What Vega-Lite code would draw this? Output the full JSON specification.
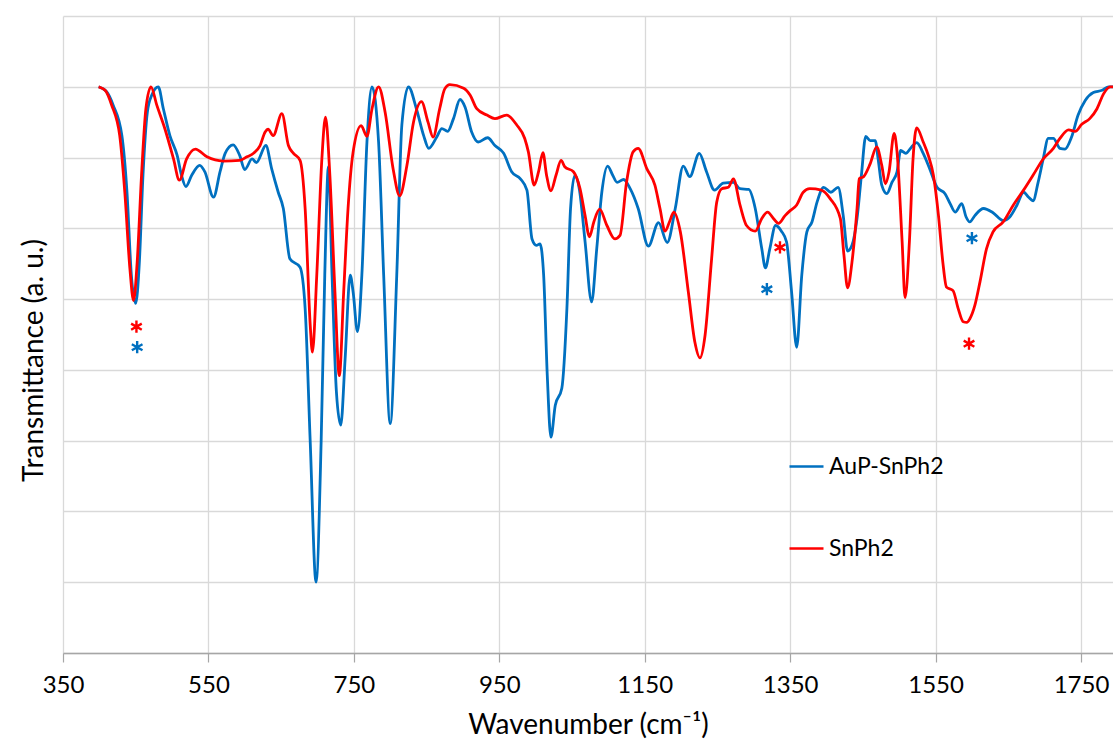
{
  "$schema": "https://vega.github.io/schema/vega-lite/v6.json",
  "autosize": {"type": "none"},
  "width": 1050,
  "height": 637,
  "padding": {"left": 63, "top": 16, "right": 0, "bottom": 90},
  "background": "white",
  "config": {
    "font": "Lato",
    "view": {"stroke": null},
    "axis": {"gridColor": "#d9d9d9", "gridWidth": 1.3}
  },
  "datasets": {
    "spectra": [
      {"s": "AuP-SnPh2", "x": 399, "y": 8.00},
      {"s": "AuP-SnPh2", "x": 410, "y": 7.93},
      {"s": "AuP-SnPh2", "x": 419, "y": 7.74},
      {"s": "AuP-SnPh2", "x": 431, "y": 7.31},
      {"s": "AuP-SnPh2", "x": 438, "y": 6.51},
      {"s": "AuP-SnPh2", "x": 444, "y": 5.34},
      {"s": "AuP-SnPh2", "x": 450, "y": 4.94},
      {"s": "AuP-SnPh2", "x": 455, "y": 5.52},
      {"s": "AuP-SnPh2", "x": 460, "y": 6.75},
      {"s": "AuP-SnPh2", "x": 466, "y": 7.64},
      {"s": "AuP-SnPh2", "x": 472, "y": 7.88},
      {"s": "AuP-SnPh2", "x": 481, "y": 8.00},
      {"s": "AuP-SnPh2", "x": 488, "y": 7.69},
      {"s": "AuP-SnPh2", "x": 497, "y": 7.31},
      {"s": "AuP-SnPh2", "x": 507, "y": 7.03},
      {"s": "AuP-SnPh2", "x": 513, "y": 6.75},
      {"s": "AuP-SnPh2", "x": 519, "y": 6.59},
      {"s": "AuP-SnPh2", "x": 527, "y": 6.75},
      {"s": "AuP-SnPh2", "x": 538, "y": 6.89},
      {"s": "AuP-SnPh2", "x": 545, "y": 6.80},
      {"s": "AuP-SnPh2", "x": 557, "y": 6.44},
      {"s": "AuP-SnPh2", "x": 566, "y": 6.80},
      {"s": "AuP-SnPh2", "x": 573, "y": 7.06},
      {"s": "AuP-SnPh2", "x": 584, "y": 7.18},
      {"s": "AuP-SnPh2", "x": 593, "y": 7.03},
      {"s": "AuP-SnPh2", "x": 600, "y": 6.83},
      {"s": "AuP-SnPh2", "x": 610, "y": 6.98},
      {"s": "AuP-SnPh2", "x": 616, "y": 6.93},
      {"s": "AuP-SnPh2", "x": 629, "y": 7.17},
      {"s": "AuP-SnPh2", "x": 637, "y": 6.84},
      {"s": "AuP-SnPh2", "x": 646, "y": 6.51},
      {"s": "AuP-SnPh2", "x": 653, "y": 6.28},
      {"s": "AuP-SnPh2", "x": 662, "y": 5.57},
      {"s": "AuP-SnPh2", "x": 676, "y": 5.45},
      {"s": "AuP-SnPh2", "x": 683, "y": 4.87},
      {"s": "AuP-SnPh2", "x": 690, "y": 2.98},
      {"s": "AuP-SnPh2", "x": 698, "y": 1.00},
      {"s": "AuP-SnPh2", "x": 705, "y": 2.98},
      {"s": "AuP-SnPh2", "x": 710, "y": 5.34},
      {"s": "AuP-SnPh2", "x": 715, "y": 6.87},
      {"s": "AuP-SnPh2", "x": 720, "y": 5.34},
      {"s": "AuP-SnPh2", "x": 726, "y": 3.69},
      {"s": "AuP-SnPh2", "x": 732, "y": 3.22},
      {"s": "AuP-SnPh2", "x": 738, "y": 4.16},
      {"s": "AuP-SnPh2", "x": 745, "y": 5.34},
      {"s": "AuP-SnPh2", "x": 749, "y": 5.10},
      {"s": "AuP-SnPh2", "x": 755, "y": 4.54},
      {"s": "AuP-SnPh2", "x": 761, "y": 5.34},
      {"s": "AuP-SnPh2", "x": 768, "y": 7.22},
      {"s": "AuP-SnPh2", "x": 775, "y": 8.00},
      {"s": "AuP-SnPh2", "x": 784, "y": 7.22},
      {"s": "AuP-SnPh2", "x": 791, "y": 5.34},
      {"s": "AuP-SnPh2", "x": 800, "y": 3.24},
      {"s": "AuP-SnPh2", "x": 809, "y": 5.34},
      {"s": "AuP-SnPh2", "x": 816, "y": 7.46},
      {"s": "AuP-SnPh2", "x": 825, "y": 8.00},
      {"s": "AuP-SnPh2", "x": 836, "y": 7.69},
      {"s": "AuP-SnPh2", "x": 846, "y": 7.31},
      {"s": "AuP-SnPh2", "x": 853, "y": 7.13},
      {"s": "AuP-SnPh2", "x": 864, "y": 7.29},
      {"s": "AuP-SnPh2", "x": 871, "y": 7.41},
      {"s": "AuP-SnPh2", "x": 879, "y": 7.37},
      {"s": "AuP-SnPh2", "x": 887, "y": 7.55},
      {"s": "AuP-SnPh2", "x": 896, "y": 7.82},
      {"s": "AuP-SnPh2", "x": 903, "y": 7.71},
      {"s": "AuP-SnPh2", "x": 912, "y": 7.36},
      {"s": "AuP-SnPh2", "x": 921, "y": 7.22},
      {"s": "AuP-SnPh2", "x": 934, "y": 7.28},
      {"s": "AuP-SnPh2", "x": 944, "y": 7.17},
      {"s": "AuP-SnPh2", "x": 956, "y": 7.06},
      {"s": "AuP-SnPh2", "x": 967, "y": 6.80},
      {"s": "AuP-SnPh2", "x": 979, "y": 6.70},
      {"s": "AuP-SnPh2", "x": 988, "y": 6.54},
      {"s": "AuP-SnPh2", "x": 995, "y": 5.85},
      {"s": "AuP-SnPh2", "x": 1001, "y": 5.76},
      {"s": "AuP-SnPh2", "x": 1006, "y": 5.78},
      {"s": "AuP-SnPh2", "x": 1011, "y": 5.34},
      {"s": "AuP-SnPh2", "x": 1016, "y": 3.92},
      {"s": "AuP-SnPh2", "x": 1021, "y": 3.05},
      {"s": "AuP-SnPh2", "x": 1027, "y": 3.50},
      {"s": "AuP-SnPh2", "x": 1036, "y": 3.74},
      {"s": "AuP-SnPh2", "x": 1043, "y": 4.87},
      {"s": "AuP-SnPh2", "x": 1048, "y": 6.28},
      {"s": "AuP-SnPh2", "x": 1054, "y": 6.75},
      {"s": "AuP-SnPh2", "x": 1060, "y": 6.56},
      {"s": "AuP-SnPh2", "x": 1068, "y": 5.81},
      {"s": "AuP-SnPh2", "x": 1077, "y": 4.96},
      {"s": "AuP-SnPh2", "x": 1084, "y": 5.71},
      {"s": "AuP-SnPh2", "x": 1091, "y": 6.51},
      {"s": "AuP-SnPh2", "x": 1099, "y": 6.88},
      {"s": "AuP-SnPh2", "x": 1106, "y": 6.75},
      {"s": "AuP-SnPh2", "x": 1112, "y": 6.65},
      {"s": "AuP-SnPh2", "x": 1121, "y": 6.69},
      {"s": "AuP-SnPh2", "x": 1130, "y": 6.56},
      {"s": "AuP-SnPh2", "x": 1141, "y": 6.28},
      {"s": "AuP-SnPh2", "x": 1155, "y": 5.75},
      {"s": "AuP-SnPh2", "x": 1169, "y": 6.08},
      {"s": "AuP-SnPh2", "x": 1181, "y": 5.80},
      {"s": "AuP-SnPh2", "x": 1192, "y": 6.28},
      {"s": "AuP-SnPh2", "x": 1203, "y": 6.88},
      {"s": "AuP-SnPh2", "x": 1212, "y": 6.73},
      {"s": "AuP-SnPh2", "x": 1225, "y": 7.06},
      {"s": "AuP-SnPh2", "x": 1235, "y": 6.80},
      {"s": "AuP-SnPh2", "x": 1246, "y": 6.54},
      {"s": "AuP-SnPh2", "x": 1258, "y": 6.64},
      {"s": "AuP-SnPh2", "x": 1272, "y": 6.65},
      {"s": "AuP-SnPh2", "x": 1281, "y": 6.56},
      {"s": "AuP-SnPh2", "x": 1293, "y": 6.55},
      {"s": "AuP-SnPh2", "x": 1302, "y": 6.28},
      {"s": "AuP-SnPh2", "x": 1311, "y": 5.71},
      {"s": "AuP-SnPh2", "x": 1316, "y": 5.44},
      {"s": "AuP-SnPh2", "x": 1322, "y": 5.71},
      {"s": "AuP-SnPh2", "x": 1330, "y": 6.04},
      {"s": "AuP-SnPh2", "x": 1338, "y": 5.96},
      {"s": "AuP-SnPh2", "x": 1345, "y": 5.81},
      {"s": "AuP-SnPh2", "x": 1352, "y": 5.10},
      {"s": "AuP-SnPh2", "x": 1359, "y": 4.32},
      {"s": "AuP-SnPh2", "x": 1366, "y": 5.34},
      {"s": "AuP-SnPh2", "x": 1373, "y": 5.95},
      {"s": "AuP-SnPh2", "x": 1380, "y": 6.09},
      {"s": "AuP-SnPh2", "x": 1387, "y": 6.37},
      {"s": "AuP-SnPh2", "x": 1396, "y": 6.58},
      {"s": "AuP-SnPh2", "x": 1406, "y": 6.51},
      {"s": "AuP-SnPh2", "x": 1416, "y": 6.58},
      {"s": "AuP-SnPh2", "x": 1423, "y": 6.18},
      {"s": "AuP-SnPh2", "x": 1429, "y": 5.68},
      {"s": "AuP-SnPh2", "x": 1435, "y": 5.76},
      {"s": "AuP-SnPh2", "x": 1442, "y": 6.14},
      {"s": "AuP-SnPh2", "x": 1448, "y": 6.75},
      {"s": "AuP-SnPh2", "x": 1454, "y": 7.30},
      {"s": "AuP-SnPh2", "x": 1460, "y": 7.24},
      {"s": "AuP-SnPh2", "x": 1467, "y": 7.24},
      {"s": "AuP-SnPh2", "x": 1471, "y": 6.98},
      {"s": "AuP-SnPh2", "x": 1476, "y": 6.61},
      {"s": "AuP-SnPh2", "x": 1483, "y": 6.49},
      {"s": "AuP-SnPh2", "x": 1490, "y": 6.65},
      {"s": "AuP-SnPh2", "x": 1497, "y": 6.80},
      {"s": "AuP-SnPh2", "x": 1502, "y": 7.10},
      {"s": "AuP-SnPh2", "x": 1509, "y": 7.06},
      {"s": "AuP-SnPh2", "x": 1517, "y": 7.15},
      {"s": "AuP-SnPh2", "x": 1524, "y": 7.21},
      {"s": "AuP-SnPh2", "x": 1533, "y": 7.06},
      {"s": "AuP-SnPh2", "x": 1542, "y": 6.84},
      {"s": "AuP-SnPh2", "x": 1552, "y": 6.58},
      {"s": "AuP-SnPh2", "x": 1563, "y": 6.49},
      {"s": "AuP-SnPh2", "x": 1570, "y": 6.35},
      {"s": "AuP-SnPh2", "x": 1577, "y": 6.23},
      {"s": "AuP-SnPh2", "x": 1586, "y": 6.35},
      {"s": "AuP-SnPh2", "x": 1592, "y": 6.16},
      {"s": "AuP-SnPh2", "x": 1597, "y": 6.09},
      {"s": "AuP-SnPh2", "x": 1604, "y": 6.18},
      {"s": "AuP-SnPh2", "x": 1616, "y": 6.28},
      {"s": "AuP-SnPh2", "x": 1629, "y": 6.22},
      {"s": "AuP-SnPh2", "x": 1643, "y": 6.11},
      {"s": "AuP-SnPh2", "x": 1652, "y": 6.16},
      {"s": "AuP-SnPh2", "x": 1662, "y": 6.33},
      {"s": "AuP-SnPh2", "x": 1671, "y": 6.51},
      {"s": "AuP-SnPh2", "x": 1678, "y": 6.44},
      {"s": "AuP-SnPh2", "x": 1684, "y": 6.39},
      {"s": "AuP-SnPh2", "x": 1691, "y": 6.65},
      {"s": "AuP-SnPh2", "x": 1698, "y": 6.98},
      {"s": "AuP-SnPh2", "x": 1705, "y": 7.27},
      {"s": "AuP-SnPh2", "x": 1712, "y": 7.27},
      {"s": "AuP-SnPh2", "x": 1721, "y": 7.13},
      {"s": "AuP-SnPh2", "x": 1728, "y": 7.12},
      {"s": "AuP-SnPh2", "x": 1737, "y": 7.29},
      {"s": "AuP-SnPh2", "x": 1746, "y": 7.60},
      {"s": "AuP-SnPh2", "x": 1756, "y": 7.81},
      {"s": "AuP-SnPh2", "x": 1767, "y": 7.92},
      {"s": "AuP-SnPh2", "x": 1779, "y": 7.95},
      {"s": "AuP-SnPh2", "x": 1788, "y": 8.00},
      {"s": "AuP-SnPh2", "x": 1794, "y": 8.00},

      {"s": "SnPh2", "x": 399, "y": 8.00},
      {"s": "SnPh2", "x": 408, "y": 7.95},
      {"s": "SnPh2", "x": 417, "y": 7.74},
      {"s": "SnPh2", "x": 428, "y": 7.31},
      {"s": "SnPh2", "x": 435, "y": 6.51},
      {"s": "SnPh2", "x": 442, "y": 5.43},
      {"s": "SnPh2", "x": 447, "y": 4.98},
      {"s": "SnPh2", "x": 452, "y": 5.52},
      {"s": "SnPh2", "x": 458, "y": 6.75},
      {"s": "SnPh2", "x": 464, "y": 7.69},
      {"s": "SnPh2", "x": 471, "y": 8.00},
      {"s": "SnPh2", "x": 479, "y": 7.74},
      {"s": "SnPh2", "x": 490, "y": 7.41},
      {"s": "SnPh2", "x": 502, "y": 6.98},
      {"s": "SnPh2", "x": 510, "y": 6.68},
      {"s": "SnPh2", "x": 520, "y": 6.98},
      {"s": "SnPh2", "x": 532, "y": 7.12},
      {"s": "SnPh2", "x": 548, "y": 7.01},
      {"s": "SnPh2", "x": 570, "y": 6.95},
      {"s": "SnPh2", "x": 593, "y": 6.96},
      {"s": "SnPh2", "x": 603, "y": 7.01},
      {"s": "SnPh2", "x": 612, "y": 7.06},
      {"s": "SnPh2", "x": 621, "y": 7.17},
      {"s": "SnPh2", "x": 628, "y": 7.36},
      {"s": "SnPh2", "x": 632, "y": 7.40},
      {"s": "SnPh2", "x": 639, "y": 7.31},
      {"s": "SnPh2", "x": 651, "y": 7.62},
      {"s": "SnPh2", "x": 660, "y": 7.17},
      {"s": "SnPh2", "x": 667, "y": 7.06},
      {"s": "SnPh2", "x": 676, "y": 6.96},
      {"s": "SnPh2", "x": 683, "y": 6.28},
      {"s": "SnPh2", "x": 690, "y": 4.63},
      {"s": "SnPh2", "x": 693, "y": 4.25},
      {"s": "SnPh2", "x": 699, "y": 5.34},
      {"s": "SnPh2", "x": 706, "y": 6.98},
      {"s": "SnPh2", "x": 711, "y": 7.57},
      {"s": "SnPh2", "x": 717, "y": 6.75},
      {"s": "SnPh2", "x": 724, "y": 5.10},
      {"s": "SnPh2", "x": 730, "y": 3.92},
      {"s": "SnPh2", "x": 736, "y": 5.10},
      {"s": "SnPh2", "x": 742, "y": 6.28},
      {"s": "SnPh2", "x": 749, "y": 7.08},
      {"s": "SnPh2", "x": 760, "y": 7.45},
      {"s": "SnPh2", "x": 768, "y": 7.30},
      {"s": "SnPh2", "x": 775, "y": 7.69},
      {"s": "SnPh2", "x": 784, "y": 8.00},
      {"s": "SnPh2", "x": 793, "y": 7.64},
      {"s": "SnPh2", "x": 804, "y": 6.84},
      {"s": "SnPh2", "x": 813, "y": 6.46},
      {"s": "SnPh2", "x": 823, "y": 6.89},
      {"s": "SnPh2", "x": 832, "y": 7.50},
      {"s": "SnPh2", "x": 843, "y": 7.79},
      {"s": "SnPh2", "x": 852, "y": 7.50},
      {"s": "SnPh2", "x": 859, "y": 7.29},
      {"s": "SnPh2", "x": 868, "y": 7.69},
      {"s": "SnPh2", "x": 875, "y": 7.97},
      {"s": "SnPh2", "x": 882, "y": 8.03},
      {"s": "SnPh2", "x": 901, "y": 7.98},
      {"s": "SnPh2", "x": 910, "y": 7.88},
      {"s": "SnPh2", "x": 919, "y": 7.69},
      {"s": "SnPh2", "x": 933, "y": 7.60},
      {"s": "SnPh2", "x": 944, "y": 7.55},
      {"s": "SnPh2", "x": 960, "y": 7.60},
      {"s": "SnPh2", "x": 974, "y": 7.46},
      {"s": "SnPh2", "x": 985, "y": 7.27},
      {"s": "SnPh2", "x": 990, "y": 7.08},
      {"s": "SnPh2", "x": 998, "y": 6.61},
      {"s": "SnPh2", "x": 1004, "y": 6.80},
      {"s": "SnPh2", "x": 1010, "y": 7.07},
      {"s": "SnPh2", "x": 1015, "y": 6.75},
      {"s": "SnPh2", "x": 1021, "y": 6.53},
      {"s": "SnPh2", "x": 1028, "y": 6.75},
      {"s": "SnPh2", "x": 1035, "y": 6.96},
      {"s": "SnPh2", "x": 1040, "y": 6.87},
      {"s": "SnPh2", "x": 1052, "y": 6.80},
      {"s": "SnPh2", "x": 1061, "y": 6.56},
      {"s": "SnPh2", "x": 1068, "y": 6.18},
      {"s": "SnPh2", "x": 1074, "y": 5.88},
      {"s": "SnPh2", "x": 1080, "y": 6.09},
      {"s": "SnPh2", "x": 1088, "y": 6.27},
      {"s": "SnPh2", "x": 1098, "y": 6.04},
      {"s": "SnPh2", "x": 1109, "y": 5.85},
      {"s": "SnPh2", "x": 1116, "y": 5.90},
      {"s": "SnPh2", "x": 1125, "y": 6.65},
      {"s": "SnPh2", "x": 1134, "y": 7.08},
      {"s": "SnPh2", "x": 1141, "y": 7.13},
      {"s": "SnPh2", "x": 1153, "y": 6.84},
      {"s": "SnPh2", "x": 1164, "y": 6.61},
      {"s": "SnPh2", "x": 1171, "y": 6.28},
      {"s": "SnPh2", "x": 1178, "y": 5.96},
      {"s": "SnPh2", "x": 1184, "y": 6.09},
      {"s": "SnPh2", "x": 1190, "y": 6.23},
      {"s": "SnPh2", "x": 1199, "y": 5.95},
      {"s": "SnPh2", "x": 1210, "y": 5.10},
      {"s": "SnPh2", "x": 1219, "y": 4.39},
      {"s": "SnPh2", "x": 1226, "y": 4.17},
      {"s": "SnPh2", "x": 1233, "y": 4.49},
      {"s": "SnPh2", "x": 1242, "y": 5.57},
      {"s": "SnPh2", "x": 1249, "y": 6.37},
      {"s": "SnPh2", "x": 1256, "y": 6.56},
      {"s": "SnPh2", "x": 1265, "y": 6.58},
      {"s": "SnPh2", "x": 1272, "y": 6.70},
      {"s": "SnPh2", "x": 1281, "y": 6.33},
      {"s": "SnPh2", "x": 1290, "y": 6.04},
      {"s": "SnPh2", "x": 1302, "y": 5.96},
      {"s": "SnPh2", "x": 1311, "y": 6.14},
      {"s": "SnPh2", "x": 1319, "y": 6.23},
      {"s": "SnPh2", "x": 1327, "y": 6.14},
      {"s": "SnPh2", "x": 1334, "y": 6.07},
      {"s": "SnPh2", "x": 1343, "y": 6.18},
      {"s": "SnPh2", "x": 1350, "y": 6.25},
      {"s": "SnPh2", "x": 1359, "y": 6.33},
      {"s": "SnPh2", "x": 1368, "y": 6.51},
      {"s": "SnPh2", "x": 1377, "y": 6.56},
      {"s": "SnPh2", "x": 1393, "y": 6.54},
      {"s": "SnPh2", "x": 1405, "y": 6.42},
      {"s": "SnPh2", "x": 1419, "y": 6.14},
      {"s": "SnPh2", "x": 1424, "y": 5.62},
      {"s": "SnPh2", "x": 1429, "y": 5.16},
      {"s": "SnPh2", "x": 1435, "y": 5.52},
      {"s": "SnPh2", "x": 1442, "y": 6.28},
      {"s": "SnPh2", "x": 1445, "y": 6.70},
      {"s": "SnPh2", "x": 1451, "y": 6.73},
      {"s": "SnPh2", "x": 1460, "y": 6.91},
      {"s": "SnPh2", "x": 1469, "y": 7.15},
      {"s": "SnPh2", "x": 1476, "y": 6.89},
      {"s": "SnPh2", "x": 1481, "y": 6.63},
      {"s": "SnPh2", "x": 1486, "y": 6.80},
      {"s": "SnPh2", "x": 1493, "y": 7.34},
      {"s": "SnPh2", "x": 1497, "y": 7.08},
      {"s": "SnPh2", "x": 1504, "y": 5.81},
      {"s": "SnPh2", "x": 1508, "y": 5.02},
      {"s": "SnPh2", "x": 1514, "y": 5.81},
      {"s": "SnPh2", "x": 1519, "y": 6.98},
      {"s": "SnPh2", "x": 1524, "y": 7.42},
      {"s": "SnPh2", "x": 1533, "y": 7.22},
      {"s": "SnPh2", "x": 1540, "y": 7.03},
      {"s": "SnPh2", "x": 1547, "y": 6.75},
      {"s": "SnPh2", "x": 1554, "y": 6.18},
      {"s": "SnPh2", "x": 1560, "y": 5.52},
      {"s": "SnPh2", "x": 1565, "y": 5.17},
      {"s": "SnPh2", "x": 1574, "y": 5.12},
      {"s": "SnPh2", "x": 1581, "y": 4.87},
      {"s": "SnPh2", "x": 1588, "y": 4.68},
      {"s": "SnPh2", "x": 1593, "y": 4.67},
      {"s": "SnPh2", "x": 1597, "y": 4.72},
      {"s": "SnPh2", "x": 1604, "y": 4.91},
      {"s": "SnPh2", "x": 1611, "y": 5.24},
      {"s": "SnPh2", "x": 1620, "y": 5.71},
      {"s": "SnPh2", "x": 1629, "y": 5.95},
      {"s": "SnPh2", "x": 1643, "y": 6.09},
      {"s": "SnPh2", "x": 1657, "y": 6.33},
      {"s": "SnPh2", "x": 1671, "y": 6.54},
      {"s": "SnPh2", "x": 1684, "y": 6.75},
      {"s": "SnPh2", "x": 1698, "y": 6.98},
      {"s": "SnPh2", "x": 1712, "y": 7.13},
      {"s": "SnPh2", "x": 1721, "y": 7.27},
      {"s": "SnPh2", "x": 1733, "y": 7.39},
      {"s": "SnPh2", "x": 1742, "y": 7.37},
      {"s": "SnPh2", "x": 1751, "y": 7.47},
      {"s": "SnPh2", "x": 1762, "y": 7.55},
      {"s": "SnPh2", "x": 1772, "y": 7.69},
      {"s": "SnPh2", "x": 1781, "y": 7.90},
      {"s": "SnPh2", "x": 1790, "y": 8.00},
      {"s": "SnPh2", "x": 1794, "y": 8.00}
    ],
    "marks": [
      {"s": "SnPh2", "x": 451, "y": 4.61},
      {"s": "AuP-SnPh2", "x": 452, "y": 4.32},
      {"s": "AuP-SnPh2", "x": 1318, "y": 5.14},
      {"s": "SnPh2", "x": 1336, "y": 5.73},
      {"s": "AuP-SnPh2", "x": 1600, "y": 5.86},
      {"s": "SnPh2", "x": 1596, "y": 4.37}
    ]
  },
  "layer": [
    {
      "data": {"name": "spectra"},
      "mark": {"type": "line", "interpolate": "monotone", "strokeWidth": 2.8, "clip": true},
      "encoding": {
        "x": {
          "field": "x",
          "type": "quantitative",
          "scale": {"domain": [350, 1794], "nice": false, "zero": false},
          "axis": {
            "values": [350, 550, 750, 950, 1150, 1350, 1550, 1750],
            "format": "d",
            "title": "Wavenumber (cm⁻¹)",
            "titleFont": "Lato",
            "titleFontSize": 28,
            "titleFontWeight": "normal",
            "titleColor": "#000000",
            "titlePadding": 14,
            "labelFont": "Lato",
            "labelFontSize": 24,
            "labelColor": "#000000",
            "labelPadding": 11,
            "labelFlush": false,
            "domainColor": "#a6a6a6",
            "domainWidth": 1.5,
            "tickColor": "#a6a6a6",
            "tickWidth": 1.2,
            "tickSize": 9,
            "grid": true
          }
        },
        "y": {
          "field": "y",
          "type": "quantitative",
          "scale": {"domain": [0, 9], "nice": false, "zero": false},
          "axis": {
            "values": [0, 1, 2, 3, 4, 5, 6, 7, 8, 9],
            "labels": false,
            "ticks": false,
            "domain": false,
            "grid": true,
            "title": "Transmittance (a. u.)",
            "titleFont": "Lato",
            "titleFontSize": 28,
            "titleFontWeight": "normal",
            "titleColor": "#000000",
            "titleX": -29,
            "titleY": 344,
            "titleAngle": -90,
            "titleAlign": "center",
            "titleBaseline": "middle"
          }
        },
        "color": {
          "field": "s",
          "type": "nominal",
          "scale": {"domain": ["AuP-SnPh2", "SnPh2"], "range": ["#0070C0", "#FF0000"]},
          "legend": {
            "title": null,
            "orient": "none",
            "legendX": 725,
            "legendY": 432,
            "padding": 0,
            "symbolType": "stroke",
            "symbolSize": 1156,
            "symbolStrokeWidth": 2.6,
            "labelFont": "Lato",
            "labelFontSize": 23,
            "labelColor": "#000000",
            "labelOffset": 4,
            "rowPadding": 51
          }
        }
      }
    },
    {
      "data": {"name": "marks"},
      "mark": {
        "type": "point",
        "shape": "M0,-1L0,1M-0.87,-0.5L0.87,0.5M-0.87,0.5L0.87,-0.5",
        "filled": false,
        "size": 150,
        "strokeWidth": 2.4,
        "opacity": 1
      },
      "encoding": {
        "x": {"field": "x", "type": "quantitative"},
        "y": {"field": "y", "type": "quantitative"},
        "color": {"field": "s", "type": "nominal", "legend": null}
      }
    }
  ],
  "resolve": {"legend": {"color": "independent"}}
}
